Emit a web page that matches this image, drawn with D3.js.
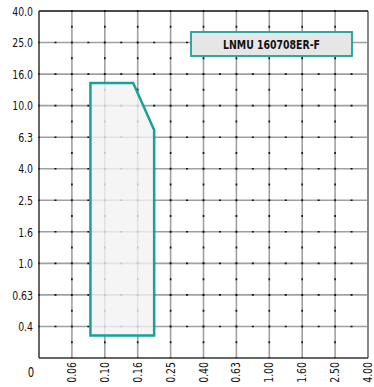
<!DOCTYPE html>
<html>
<head>
<meta charset="utf-8">
<script src="https://cdn.jsdelivr.net/npm/d3@7"></script>
<style>
  html, body { margin: 0; padding: 0; background: #fff; }
  svg { display: block; }
  text { font-family: "Liberation Sans Narrow", "DejaVu Sans Condensed", "DejaVu Sans", sans-serif; font-stretch: condensed; }
</style>
</head>
<body>
<div id="chart"></div>
<script>
// feed (x) and depth of cut (y) tick values, R10/5 series
var xTicks = [0.06, 0.10, 0.16, 0.25, 0.40, 0.63, 1.00, 1.60, 2.50, 4.00];
var xLabels = ["0.06", "0.10", "0.16", "0.25", "0.40", "0.63", "1.00", "1.60", "2.50", "4.00"];
var yTicks = [0.4, 0.63, 1.0, 1.6, 2.5, 4.0, 6.3, 10, 16, 25, 40];
var yLabels = ["0.4", "0.63", "1.0", "1.6", "2.5", "4.0", "6.3", "10.0", "16.0", "25.0", "40.0"];

// application area of the insert
var areaFeed = [0.08, 0.08, 0.15, 0.20, 0.20];
var areaDepth = [0.35, 14, 14, 7, 0.35];
var insertName = "LNMU 160708ER-F";

var W = 374, H = 387;
// note: "top" is window.top, so use plot* names
var plotLeft = 39, plotRight = 368, plotTop = 11, plotBottom = 358;
var teal = "#19a09b";
var squeeze = 0.8; // narrow the condensed font a bit more

var svg = d3.select("#chart").append("svg")
    .attr("width", W)
    .attr("height", H);

// axis steps are equally spaced in log, so use piecewise log scales
var xDomain = [0.04].concat(xTicks);
var xStep = (plotRight - plotLeft) / xTicks.length;
var x = d3.scaleLog()
    .domain(xDomain)
    .range(xDomain.map(function(d, i){ return plotLeft + i * xStep; }));

var yDomain = [0.25].concat(yTicks);
var yStep = (plotBottom - plotTop) / yTicks.length;
var y = d3.scaleLog()
    .domain(yDomain)
    .range(yDomain.map(function(d, i){ return plotBottom - i * yStep; }));

var grid = svg.append("g").attr("id", "grid");

// horizontal grid lines (gray line with black dots)
yTicks.slice(0, -1).forEach(function(v){
    grid.append("line")
        .attr("x1", plotLeft).attr("x2", plotRight)
        .attr("y1", y(v)).attr("y2", y(v))
        .attr("stroke", "#a0a0a0").attr("stroke-width", 1.6);
    grid.append("line")
        .attr("x1", plotLeft - 1).attr("x2", plotRight)
        .attr("y1", y(v)).attr("y2", y(v))
        .attr("stroke", "#111").attr("stroke-width", 1.6)
        .attr("stroke-dasharray", "2," + (xStep / 2 - 2));
});

// vertical grid lines
xTicks.slice(0, -1).forEach(function(v){
    grid.append("line")
        .attr("x1", x(v)).attr("x2", x(v))
        .attr("y1", plotTop).attr("y2", plotBottom)
        .attr("stroke", "#a0a0a0").attr("stroke-width", 1.6);
    grid.append("line")
        .attr("x1", x(v)).attr("x2", x(v))
        .attr("y1", plotTop - 1).attr("y2", plotBottom)
        .attr("stroke", "#111").attr("stroke-width", 1.6)
        .attr("stroke-dasharray", "2," + (yStep / 2 - 2));
});

// frame
svg.append("line")
    .attr("x1", plotRight).attr("x2", plotRight)
    .attr("y1", plotTop).attr("y2", plotBottom)
    .attr("stroke", "#888").attr("stroke-width", 2);
svg.append("line")
    .attr("x1", plotLeft).attr("x2", plotRight)
    .attr("y1", plotTop).attr("y2", plotTop)
    .attr("stroke", "#111").attr("stroke-width", 1.5);
svg.append("line")
    .attr("x1", plotLeft).attr("x2", plotLeft)
    .attr("y1", plotTop).attr("y2", plotBottom)
    .attr("stroke", "#333").attr("stroke-width", 1.5);
svg.append("line")
    .attr("x1", plotLeft).attr("x2", plotRight)
    .attr("y1", plotBottom).attr("y2", plotBottom)
    .attr("stroke", "#333").attr("stroke-width", 1.5);

// application area
var pts = areaFeed.map(function(f, i){ return [x(f), y(areaDepth[i])]; });
svg.append("path")
    .attr("d", d3.line()(pts) + "Z")
    .attr("fill", "#f2f2f2")
    .attr("fill-opacity", 0.8)
    .attr("stroke", teal)
    .attr("stroke-width", 2.5)
    .attr("stroke-linejoin", "miter");

// y labels
svg.append("g").selectAll("text")
    .data(yTicks)
    .enter().append("text")
    .attr("transform", function(d){ return "translate(" + (plotLeft - 6) + "," + y(d) + ") scale(" + squeeze + ",1)"; })
    .attr("dy", "0.36em")
    .attr("text-anchor", "end")
    .attr("font-size", 13)
    .attr("fill", "#111")
    .text(function(d, i){ return yLabels[i]; });

// x labels, rotated
svg.append("g").selectAll("text")
    .data(xTicks)
    .enter().append("text")
    .attr("transform", function(d){ return "translate(" + (x(d) + 4) + "," + (plotBottom + 4) + ") rotate(-90) scale(" + squeeze + ",1)"; })
    .attr("text-anchor", "end")
    .attr("font-size", 13)
    .attr("fill", "#111")
    .text(function(d, i){ return xLabels[i]; });

// origin label
svg.append("text")
    .attr("transform", "translate(31,372) scale(" + squeeze + ",1)")
    .attr("dy", "0.36em")
    .attr("text-anchor", "middle")
    .attr("font-size", 14)
    .attr("fill", "#111")
    .text("0");

// legend box
var legend = svg.append("g").attr("transform", "translate(191,32)");
legend.append("rect")
    .attr("width", 161)
    .attr("height", 24)
    .attr("fill", "#e6e6e6")
    .attr("stroke", teal)
    .attr("stroke-width", 1.8);
legend.append("text")
    .attr("transform", "translate(80.5,12) scale(" + squeeze + ",1)")
    .attr("dy", "0.36em")
    .attr("text-anchor", "middle")
    .attr("font-size", 13)
    .attr("font-weight", "bold")
    .attr("fill", "#111")
    .text(insertName);
</script>
</body>
</html>
